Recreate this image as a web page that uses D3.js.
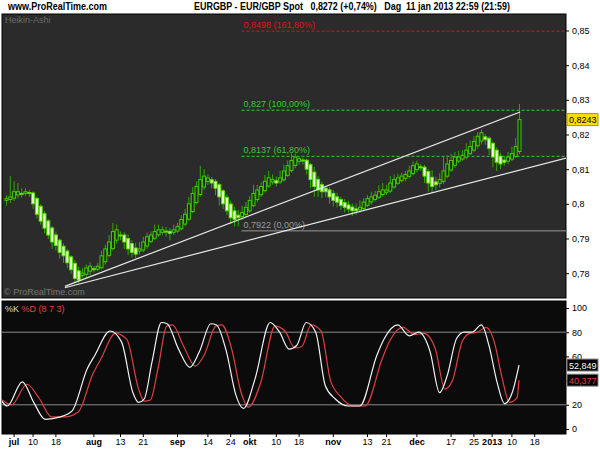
<!DOCTYPE html>
<html>
<head>
<meta charset="utf-8">
<script src="https://cdn.jsdelivr.net/npm/d3@7"></script>
<style>
  body { margin: 0; background: #fff; }
  svg text { font-family: "Liberation Sans", Arial, sans-serif; }
</style>
</head>
<body>
<svg id="chart" width="600" height="450"></svg>
<script>
// Heikin-Ashi closes, one per trading day (jul 2012 - 11 jan 2013)
const haClose = [
  0.8015,0.8020,0.8035,0.8035,0.8030,0.8035,0.8030,0.8000,0.7970,0.7950,
  0.7930,0.7910,0.7890,0.7880,0.7860,0.7850,0.7830,0.7810,0.7785,0.7780,
  0.7800,0.7815,0.7820,0.7810,0.7820,0.7850,0.7870,0.7890,0.7920,0.7925,
  0.7910,0.7890,0.7870,0.7860,0.7855,0.7870,0.7890,0.7905,0.7910,0.7920,
  0.7925,0.7925,0.7920,0.7915,0.7925,0.7935,0.7955,0.7970,0.8000,0.8030,
  0.8050,0.8070,0.8080,0.8075,0.8060,0.8045,0.8020,0.8000,0.7980,0.7960,
  0.7955,0.7960,0.7975,0.7990,0.8010,0.8030,0.8040,0.8050,0.8065,0.8075,
  0.8070,0.8060,0.8075,0.8095,0.8110,0.8125,0.8135,0.8130,0.8125,0.8100,
  0.8070,0.8050,0.8040,0.8035,0.8035,0.8020,0.8010,0.8005,0.7995,0.7990,
  0.7985,0.7980,0.7980,0.7990,0.8005,0.8015,0.8020,0.8025,0.8035,0.8040,
  0.8040,0.8060,0.8070,0.8075,0.8080,0.8085,0.8095,0.8110,0.8115,0.8105,
  0.8080,0.8060,0.8050,0.8055,0.8070,0.8095,0.8115,0.8125,0.8135,0.8135,
  0.8140,0.8155,0.8165,0.8180,0.8195,0.8205,0.8185,0.8160,0.8135,0.8120,
  0.8115,0.8120,0.8135,0.8145,0.8165,0.8243
];
const firstOpen = 0.8010;
// wick lengths in pips above / below the body
const wickHi = [
  10,60,30,25,15,10,8,5,5,6, 8,5,6,10,5,8,6,5,10,12,
  15,10,12,8,10,15,12,20,25,15, 10,8,12,10,15,20,15,12,10,20,
  15,10,12,10,15,10,12,15,20,18, 15,40,20,10,8,6,5,5,8,10,
  12,15,20,15,12,25,15,12,18,20, 15,12,20,18,15,20,10,8,6,5,
  5,15,10,8,6,8,10,12,8,10, 12,10,15,20,12,10,15,12,18,20,
  15,20,15,12,10,10,15,12,10,8, 6,8,20,15,18,40,25,20,15,18,
  15,20,18,15,12,10,8,6,5,8, 10,12,15,20,25,45
];
const wickLo = [
  15,10,8,10,12,8,10,15,12,10, 15,12,20,15,18,20,15,12,15,10,
  8,10,12,8,6,5,8,6,5,10, 15,20,18,15,12,10,6,8,5,5,
  6,8,15,20,8,5,5,6,5,5, 5,6,8,10,15,20,25,15,12,18,
  20,25,10,8,6,5,8,6,5,6, 8,10,6,5,5,6,8,10,12,15,
  25,30,20,18,15,20,18,15,12,15, 10,15,12,8,6,5,8,6,5,6,
  8,6,5,5,6,8,6,5,8,10, 20,25,18,15,12,8,6,5,8,6,
  5,6,5,6,8,10,15,20,30,25, 15,10,8,6,5,8
];

// stochastic %K / %D read at bar positions
const kIdx = [-1.7,0.3,4.3,7.3,10.3,14.3,17.4,21.4,23.4,27.4,30.4,33.4,34.9,36.4,38.4,40.9,42.4,45.4,48.4,50.9,53.9,55.4,58,60.5,62.5,65.5,69.5,72,74.5,76.5,79,81.5,84,86.6,90.1,93.1,97.6,99.6,103.1,106.1,108.6,111.6,114.1,116.1,118.6,120.6,122.6,125.1,127.1,129.2,131.2,133.2,135];
const kVal = [26,19,39,22,8,10,15,50,61,81,72,30,22,25,55,88,87,66,51,64,87,86,64,28,17,41,88,80,66,69,88,80,36,25,19,19,61,75,86,77,80,64,30,44,75,80,80,86,69,39,21,30,52.849];
const dIdx = [-1,1.5,5.5,8.8,12,15.5,19,22.8,25,28.8,31.8,34.8,36.4,38,40,42.3,43.8,46.8,49.8,52.3,55.2,56.8,59.4,61.8,63.8,67,70.8,73.4,76,77.8,80.3,82.9,85.4,88,91.5,94.5,99,101,104.5,107.5,110,113,115.5,117.5,120,122,124,126.4,128.5,130.5,132.5,134.5,135];
const dVal = [24,20,37,25,10,10,14,45,58,79,74,34,23,24,50,85,86,68,52,62,85,86,66,31,18,38,85,81,67,68,86,81,40,27,19,19,58,73,84,78,79,66,33,40,72,79,80,84,72,43,22,26,40.377];

const tickIdx = [2,7,13,23,30,36,45,53,59,64,71,77,86,95,100,108,117,123,127.8,133,139];
const tickLbl = ["jul","10","18","aug","13","21","sep","14","24","okt","10","18","nov","13","21","dec","17","25","2013","10","18"];
const tickBold = ["jul","aug","sep","okt","nov","dec","2013"];

const priceTicks = [0.78,0.79,0.80,0.81,0.82,0.83,0.84,0.85];
const stochTicks = [0,20,40,60,80,100];
const stochHidden = [40]; // covered by the %D value tag

// fibonacci levels: price, label, colour
const fibLevels = [
  {p: 0.8498, t: "0,8498 (161,80%)", c: "#e01010", dash: "3,2"},
  {p: 0.827,  t: "0,827 (100,00%)",  c: "#33cc33", dash: "3,2"},
  {p: 0.8137, t: "0,8137 (61,80%)",  c: "#33cc33", dash: "3,2"},
  {p: 0.7922, t: "0,7922 (0,00%)",   c: "#999999", dash: null}
];
const fibStart = 62.5;
// trend lines [bar, price]
const trendLines = [
  [[15.5, 0.7758], [147.5, 0.8132]],
  [[15.5, 0.7762], [135.3, 0.8265]]
];

const svg = d3.select("#chart");
const L = 2, R = 566, T1 = 14, B1 = 298, T2 = 301, B2 = 434;

const x = d3.scaleLinear().domain([0, 100]).range([6, 386]);
const y = d3.scaleLinear().domain([0.79, 0.85]).range([238.5, 30.5]);
const ys = d3.scaleLinear().domain([0, 100]).range([429, 308]);
const fmtP = d => String(+d.toFixed(4)).replace(".", ",");

// header (narrow font in the original, so squeeze to width)
svg.append("text").attr("x", 8).attr("y", 10).attr("font-size", 10).attr("font-weight", "bold")
  .attr("textLength", 99).attr("lengthAdjust", "spacingAndGlyphs").text("www.ProRealTime.com");
svg.append("text").attr("x", 194).attr("y", 10).attr("font-size", 10).attr("font-weight", "bold")
  .attr("xml:space", "preserve").attr("textLength", 316).attr("lengthAdjust", "spacingAndGlyphs")
  .text("EURGBP - EUR/GBP Spot   0,8272 (+0,74%)   Dag  11 jan 2013 22:59 (21:59)");

// panels
svg.append("rect").attr("x", L).attr("y", T1).attr("width", R - L).attr("height", B1 - T1)
  .attr("fill", "#2b2b2b").attr("stroke", "#000");
svg.append("rect").attr("x", L).attr("y", T2).attr("width", R - L).attr("height", B2 - T2)
  .attr("fill", "#0b0b0b").attr("stroke", "#000");

svg.append("clipPath").attr("id", "c1").append("rect").attr("x", L).attr("y", T1).attr("width", R - L).attr("height", B1 - T1);
svg.append("clipPath").attr("id", "c2").append("rect").attr("x", L).attr("y", T2).attr("width", R - L).attr("height", B2 - T2);

const g1 = svg.append("g").attr("clip-path", "url(#c1)");
const g2 = svg.append("g").attr("clip-path", "url(#c2)");

g1.append("text").attr("x", 5).attr("y", 23).attr("font-size", 9).attr("fill", "#6a6a6a").text("Heikin-Ashi");
g1.append("text").attr("x", 4).attr("y", 295).attr("font-size", 9).attr("fill", "#777").text("© ProRealTime.com");

// fib levels
fibLevels.forEach(f => {
  g1.append("line").attr("x1", x(fibStart) - 2).attr("x2", R).attr("y1", y(f.p)).attr("y2", y(f.p))
    .attr("stroke", f.c).attr("stroke-width", 1).attr("stroke-dasharray", f.dash);
  g1.append("text").attr("x", x(fibStart)).attr("y", y(f.p) - 3).attr("font-size", 9)
    .attr("fill", f.c).text(f.t);
});

// candles
const bars = [];
let o = firstOpen;
haClose.forEach((c, i) => {
  if (i > 0) o = (bars[i - 1].o + bars[i - 1].c) / 2;
  bars.push({i, o, c, h: Math.max(o, c) + wickHi[i] / 10000, l: Math.min(o, c) - wickLo[i] / 10000});
});
g1.selectAll(".wick").data(bars).join("line")
  .attr("x1", d => x(d.i) + 0.5).attr("x2", d => x(d.i) + 0.5)
  .attr("y1", d => y(d.h)).attr("y2", d => y(d.l))
  .attr("stroke", "#2ea800").attr("stroke-width", 1);
g1.selectAll(".body").data(bars).join("rect")
  .attr("x", d => x(d.i) - 1).attr("width", 3)
  .attr("y", d => y(Math.max(d.o, d.c)))
  .attr("height", d => Math.max(1, Math.abs(y(d.o) - y(d.c))))
  .attr("fill", d => d.c >= d.o ? "#1f2a14" : "#e4ffd0")
  .attr("stroke", d => d.c >= d.o ? "#3fd000" : "#5ce000").attr("stroke-width", 1);

// trend lines
trendLines.forEach(t => {
  g1.append("line").attr("x1", x(t[0][0])).attr("y1", y(t[0][1]))
    .attr("x2", x(t[1][0])).attr("y2", y(t[1][1]))
    .attr("stroke", "#e8e8e8").attr("stroke-width", 1.2);
});

// price axis
const ax1 = svg.append("g").attr("transform", `translate(${R},0)`)
  .call(d3.axisRight(y).tickValues(priceTicks).tickSize(3).tickFormat(d => fmtP(+d.toFixed(2))));
ax1.select(".domain").remove();
ax1.selectAll("text").attr("font-size", 9).attr("fill", "#000").attr("font-family", "Liberation Sans, Arial");
svg.append("rect").attr("x", 567).attr("y", y(0.8243) - 6).attr("width", 31).attr("height", 12)
  .attr("fill", "#ffdd00").attr("stroke", "#aa9900");
svg.append("text").attr("x", 569).attr("y", y(0.8243) + 3.5).attr("font-size", 9).text("0,8243");

// stochastic
[20, 80].forEach(v => g2.append("line").attr("x1", L).attr("x2", R).attr("y1", ys(v)).attr("y2", ys(v))
  .attr("stroke", "#8a8a8a").attr("stroke-width", 1));
const line = d3.line().curve(d3.curveMonotoneX);
g2.append("path").attr("d", line(dIdx.map((d, i) => [x(d), ys(dVal[i])])))
  .attr("fill", "none").attr("stroke", "#e04040").attr("stroke-width", 1.2);
g2.append("path").attr("d", line(kIdx.map((d, i) => [x(d), ys(kVal[i])])))
  .attr("fill", "none").attr("stroke", "#f2f2f2").attr("stroke-width", 1.2);
g2.append("text").attr("x", 5).attr("y", 312).attr("font-size", 9).attr("fill", "#ddd").text("%K")
  .append("tspan").attr("fill", "#e04040").text(" %D (8 7 3)");

const ax2 = svg.append("g").attr("transform", `translate(${R},0)`)
  .call(d3.axisRight(ys).tickValues(stochTicks).tickSize(3)
    .tickFormat(d => stochHidden.includes(d) ? "" : d));
ax2.select(".domain").remove();
ax2.selectAll("text").attr("font-size", 9).attr("fill", "#000");
[[52.849, "52,849", "#fff"], [40.377, "40,377", "#e04040"]].forEach(([v, t, c]) => {
  svg.append("rect").attr("x", 567).attr("y", ys(v) - 6).attr("width", 31).attr("height", 12)
    .attr("fill", "#000").attr("stroke", "#888");
  svg.append("text").attr("x", 569).attr("y", ys(v) + 3.5).attr("font-size", 9).attr("fill", c).text(t);
});

// date axis
const ax3 = svg.append("g").attr("transform", `translate(0,${B2})`)
  .call(d3.axisBottom(x).tickValues(tickIdx).tickSize(3).tickFormat((d, i) => tickLbl[i]));
ax3.select(".domain").remove();
ax3.selectAll("text").attr("font-size", 9).attr("fill", "#000").attr("dy", "0.55em")
  .attr("font-weight", (d, i) => tickBold.includes(tickLbl[i]) ? "bold" : "normal");
</script>
</body>
</html>
